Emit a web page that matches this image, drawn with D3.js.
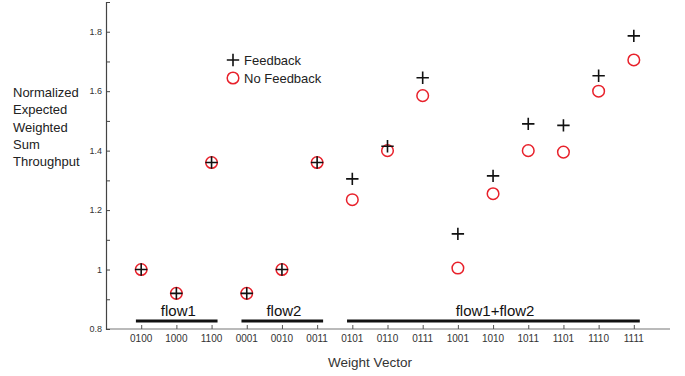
<!DOCTYPE html>
<html>
<head>
<meta charset="utf-8">
<script src="https://cdn.jsdelivr.net/npm/d3@7"></script>
<style>
  body { margin: 0; background: #fff; }
  svg { font-family: "Liberation Sans", Arial, sans-serif; }
</style>
</head>
<body>
<div id="chart"></div>
<script>
// weight vectors along the x axis
var vectors = ["0100", "1000", "1100", "0001", "0010", "0011", "0101", "0110", "0111",
               "1001", "1010", "1011", "1101", "1110", "1111"];
var feedback   = [1.00, 0.92, 1.36, 0.92, 1.00, 1.36, 1.305, 1.415, 1.645, 1.12, 1.315, 1.49, 1.485, 1.652, 1.786];
var noFeedback = [1.00, 0.92, 1.36, 0.92, 1.00, 1.36, 1.235, 1.40, 1.585, 1.005, 1.255, 1.40, 1.395, 1.60, 1.705];

var majorTicks = [0.8, 1, 1.2, 1.4, 1.6, 1.8];
var minorTicks = [0.9, 1.1, 1.3, 1.5, 1.7];

// groups of weight vectors (first index, last index)
var groups = [
    { name: "flow1", from: 0, to: 2 },
    { name: "flow2", from: 3, to: 5 },
    { name: "flow1+flow2", from: 6, to: 14 }
];

var yLabel = ["Normalized", "Expected", "Weighted", "Sum", "Throughput"];

var width = 685, height = 376;

var svg = d3.select("#chart").append("svg")
    .attr("width", width)
    .attr("height", height);

var xScale = d3.scaleLinear()
    .domain([-1, 15])
    .range([106, 669]);

var yScale = d3.scaleLinear()
    .domain([0.8, 1.9])
    .range([329, 2]);

// x axis
svg.append("line")
    .attr("x1", xScale(-1)).attr("x2", xScale(15.03))
    .attr("y1", yScale(0.8)).attr("y2", yScale(0.8))
    .attr("stroke", "#777").attr("stroke-width", 1.2);

var xAxis = svg.append("g")
    .attr("transform", `translate(0, ${yScale(0.8)})`)
    .call(d3.axisTop(xScale).tickValues(d3.range(vectors.length)).tickSize(4).tickFormat(""));
xAxis.select(".domain").remove();
xAxis.selectAll("line").attr("stroke", "#555");

svg.selectAll(".xlab")
    .data(vectors)
    .enter().append("text")
    .attr("class", "xlab")
    .attr("x", (d, i) => xScale(i))
    .attr("y", 342)
    .attr("text-anchor", "middle")
    .attr("font-size", 10)
    .attr("fill", "#333")
    .text(d => d);

svg.append("text")
    .attr("x", 370)
    .attr("y", 367)
    .attr("text-anchor", "middle")
    .attr("font-size", 13.5)
    .attr("fill", "#333")
    .text("Weight Vector");

// y axis
var yAxis = svg.append("g")
    .attr("transform", `translate(${xScale(-1)}, 0)`)
    .call(d3.axisRight(yScale).tickValues(majorTicks).tickSize(4).tickFormat(""));
yAxis.select(".domain").attr("stroke", "#444").attr("stroke-width", 1.2);
yAxis.selectAll("line").attr("stroke", "#444");

svg.append("g")
    .attr("transform", `translate(${xScale(-1)}, 0)`)
    .call(d3.axisRight(yScale).tickValues(minorTicks).tickSize(4).tickFormat(""))
    .call(g => g.select(".domain").remove())
    .selectAll("line").attr("stroke", "#444");

svg.selectAll(".ylab")
    .data(majorTicks)
    .enter().append("text")
    .attr("class", "ylab")
    .attr("x", 102)
    .attr("y", d => yScale(d) + 3)
    .attr("text-anchor", "end")
    .attr("font-size", 9)
    .attr("fill", "#333")
    .text(d => d3.format("")(d));

svg.append("text")
    .attr("font-size", 13)
    .attr("fill", "#222")
    .selectAll("tspan")
    .data(yLabel)
    .enter().append("tspan")
    .attr("x", 13)
    .attr("y", (d, i) => 97 + i * 17.3)
    .text(d => d);

// group bars
var step = xScale(1) - xScale(0);
svg.selectAll(".gbar")
    .data(groups)
    .enter().append("line")
    .attr("x1", d => xScale(d.from) - step * 0.15)
    .attr("x2", d => xScale(d.to) + step * 0.17)
    .attr("y1", 321).attr("y2", 321)
    .attr("stroke", "#111").attr("stroke-width", 3);

svg.selectAll(".glab")
    .data(groups)
    .enter().append("text")
    .attr("x", d => (xScale(d.from) + xScale(d.to)) / 2 + 2)
    .attr("y", 316)
    .attr("text-anchor", "middle")
    .attr("font-size", 15)
    .attr("fill", "#111")
    .text(d => d.name);

// markers
var red = "#e8212b";
svg.selectAll(".nofb")
    .data(noFeedback)
    .enter().append("circle")
    .attr("cx", (d, i) => xScale(i))
    .attr("cy", d => yScale(d))
    .attr("r", 5.8)
    .attr("fill", "none")
    .attr("stroke", red)
    .attr("stroke-width", 1.5);

var plusSize = 6.2;
var plus = svg.selectAll(".fb")
    .data(feedback)
    .enter().append("path")
    .attr("d", (d, i) => {
        var x = xScale(i), y = yScale(d);
        return `M${x - plusSize},${y}H${x + plusSize}M${x},${y - plusSize}V${y + plusSize}`;
    })
    .attr("stroke", "#111")
    .attr("stroke-width", 1.6);

// legend
svg.append("path")
    .attr("d", `M${233 - plusSize},60H${233 + plusSize}M233,${60 - plusSize}V${60 + plusSize}`)
    .attr("stroke", "#111").attr("stroke-width", 1.6);
svg.append("circle")
    .attr("cx", 233).attr("cy", 78).attr("r", 5.8)
    .attr("fill", "none").attr("stroke", red).attr("stroke-width", 1.5);
svg.append("text")
    .attr("x", 244).attr("y", 65)
    .attr("font-size", 13).attr("fill", "#222")
    .text("Feedback");
svg.append("text")
    .attr("x", 244).attr("y", 83)
    .attr("font-size", 13).attr("fill", "#222")
    .text("No Feedback");
</script>
</body>
</html>
